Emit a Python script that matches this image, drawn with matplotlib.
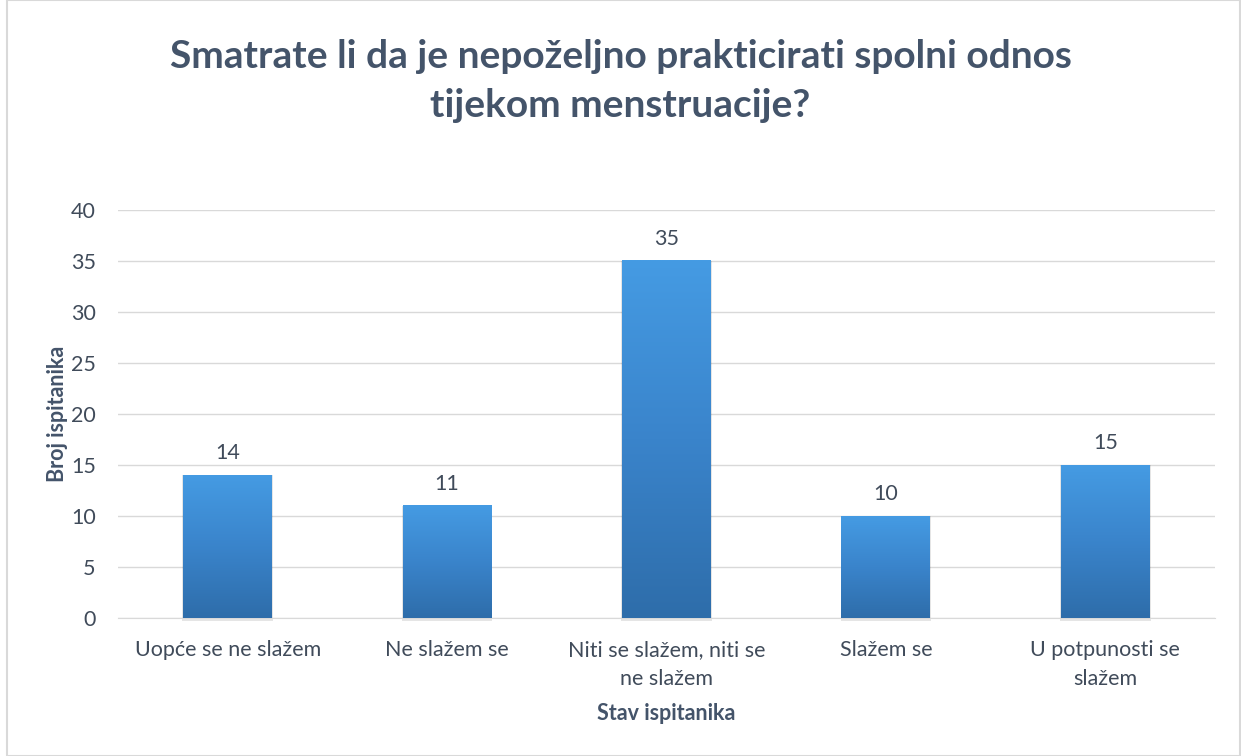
import numpy as np
import matplotlib
matplotlib.use("Agg")
import matplotlib.pyplot as plt
from matplotlib.colors import LinearSegmentedColormap
from matplotlib.patches import Rectangle

categories = ["Uopće se ne slažem", "Ne slažem se", "Niti se slažem, niti se\nne slažem",
              "Slažem se", "U potpunosti se\nslažem"]
counts = [14, 11, 35, 10, 15]

TEXT = "#44546A"
TICK = "#404B5A"
plt.rcParams["font.family"] = ["Lato", "DejaVu Sans"]

fig = plt.figure(figsize=(12.41, 7.56), dpi=100)
ax = fig.add_axes([118 / 1241, 138 / 756, 1097 / 1241, 408 / 756])

grad = LinearSegmentedColormap.from_list("bar", ["#2E6DAA", "#3A84CB", "#459BE3"])
g = np.linspace(0, 1, 256).reshape(-1, 1)
width = 0.405
x = np.arange(len(categories))
for xi, v in zip(x, counts):
    # soft shadow under the bar
    ax.add_patch(Rectangle((xi - width / 2 - 0.004, -0.3), width + 0.008, v + 0.3, color="#000000",
                           alpha=0.10, lw=0, zorder=2, clip_on=False))
    ax.imshow(g, cmap=grad, origin="lower", aspect="auto",
              extent=(xi - width / 2, xi + width / 2, 0, v), zorder=3)
    ax.text(xi, v + 1.2, str(v), ha="center", va="bottom", fontsize=15.5, color=TICK)

ax.set_xlim(-0.5, len(categories) - 0.5)
ax.set_ylim(0, 40)
ax.set_yticks(range(0, 41, 5))
ax.set_xticks(x)
ax.set_xticklabels(categories, fontsize=15.5, color=TICK, linespacing=1.55)
ax.tick_params(axis="y", labelsize=15.5, labelcolor=TICK, length=0, pad=16)
ax.tick_params(axis="x", length=0, pad=16)
ax.grid(axis="y", color="#D9D9D9", lw=1, zorder=0)
for s in ["top", "right", "left"]:
    ax.spines[s].set_visible(False)
ax.spines["bottom"].set_color("#D9D9D9")
ax.set_axisbelow(True)

ax.set_ylabel("Broj ispitanika", fontsize=15.5, fontweight="bold", color=TEXT, labelpad=2)
ax.set_xlabel("Stav ispitanika", fontsize=15.5, fontweight="bold", color=TEXT, labelpad=10)

fig.text(0.5, 1 - 81 / 756, "Smatrate li da je nepoželjno prakticirati spolni odnos\ntijekom menstruacije?",
         ha="center", va="center", fontsize=28, fontweight="bold", color=TEXT, linespacing=1.5)

fig.add_artist(Rectangle((7 / 1241, 0), 1 - 8 / 1241, 1, transform=fig.transFigure,
                         fill=False, edgecolor="#D9D9D9", lw=1.5))

fig.savefig("out.png", dpi=100)
